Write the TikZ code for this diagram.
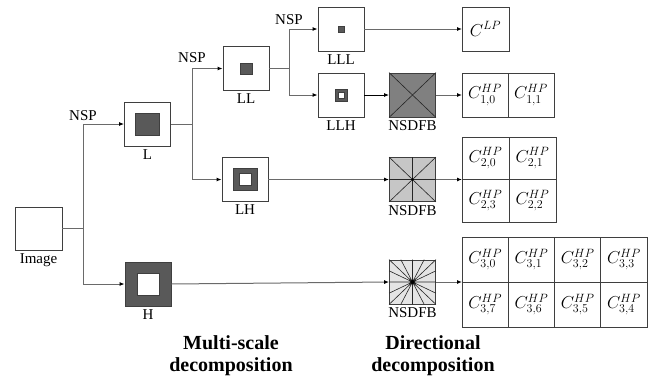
\documentclass[tikz,border=0pt]{standalone}
\usepackage{fontspec}
\setmainfont{Liberation Serif}
\usetikzlibrary{arrows.meta, positioning, calc}
\definecolor{boxline}{HTML}{3F3F3F}
\definecolor{wireline}{HTML}{6A6A6A}
\definecolor{darkfill}{HTML}{595959}
\definecolor{dfbdark}{HTML}{808080}
\definecolor{dfbmid}{HTML}{C6C6C6}
\definecolor{dfblight}{HTML}{E4E4E4}

\begin{document}
\begin{tikzpicture}[
    x=1pt, y=-1pt,
    >={Latex[length=5pt, width=4pt, color=black]},
    % ── shared styles ──
    band box/.style={draw=boxline, line width=0.8pt, fill=white, inner sep=0pt,
        minimum width=46pt, minimum height=44pt},
    core sq/.style={draw=boxline, line width=0.6pt, fill=darkfill, inner sep=0pt,
        minimum width=#1, minimum height=#1},
    hole sq/.style={draw=boxline, line width=0.6pt, fill=white, inner sep=0pt,
        minimum width=#1, minimum height=#1},
    dfb box/.style={band box, fill=#1},
    coef cell/.style={draw=boxline, line width=0.8pt, inner sep=0pt, outer sep=0pt,
        minimum width=#1, minimum height=44pt, font=\fontsize{18}{20}\selectfont},
    sub label/.style={font=\fontsize{15}{17}\selectfont, inner sep=1pt},
    stage title/.style={font=\fontsize{20}{22}\selectfont\bfseries, align=center},
    wire/.style={draw=wireline, line width=1pt},
    flow/.style={wire, ->},
    dfb ray/.style={draw=black!85, line width=0.6pt},
]
\useasboundingbox (0,0) rectangle (656,380);

% ══════════════════════════════════════════════════════════════════════
%  MULTI-SCALE BANDS (NSP tree)
% ══════════════════════════════════════════════════════════════════════
\node[band box, minimum width=47pt, minimum height=43pt] (img) at (38.5,228.5) {};
\node[sub label, below=2pt of img] (imglab) {Image};

% ── level 1 ──
\node[band box] (L) at (147.5,124) {};
\node[core sq=24pt, minimum height=22pt] (Lcore) at (L) {};
\node[sub label, below=2pt of L] (Llab) {L};

\node[band box, fill=darkfill] (H) at (148,284) {};
\node[hole sq=22pt] (Hhole) at (H) {};
\node[sub label, below=2pt of H] (Hlab) {H};

% ── level 2 ──
\node[band box] (LL) at (246,68.5) {};
\node[core sq=12pt, minimum height=11pt] (LLcore) at (LL) {};
\node[sub label, below=2pt of LL] (LLlab) {LL};

\node[band box] (LH) at (245,179.5) {};
\node[core sq=24pt, minimum height=22pt] (LHcore) at (LH) {};
\node[hole sq=12pt] (LHhole) at (LH) {};
\node[sub label, below=2pt of LH] (LHlab) {LH};

% ── level 3 ──
\node[band box] (LLL) at (341,29) {};
\node[core sq=6pt] (LLLcore) at (LLL) {};
\node[sub label, below=2pt of LLL] (LLLlab) {LLL};

\node[band box] (LLH) at (341,95) {};
\node[core sq=12pt] (LLHcore) at (LLH) {};
\node[hole sq=6pt] (LLHhole) at (LLH) {};
\node[sub label, below=2pt of LLH] (LLHlab) {LLH};

% ══════════════════════════════════════════════════════════════════════
%  DIRECTIONAL FILTER BANKS
% ══════════════════════════════════════════════════════════════════════
\node[dfb box=dfbdark] (dfb1) at (412.5,95) {};
\draw[dfb ray] (dfb1.north west) -- (dfb1.south east)
               (dfb1.north east) -- (dfb1.south west);
\node[sub label, below=2pt of dfb1] (dfb1lab) {NSDFB};

\node[dfb box=dfbmid] (dfb2) at (412.5,179.5) {};
\draw[dfb ray] (dfb2.north west) -- (dfb2.south east)
               (dfb2.north east) -- (dfb2.south west)
               (dfb2.north) -- (dfb2.south)
               (dfb2.west) -- (dfb2.east);
\fill (dfb2.center) circle (1.3pt);
\node[sub label, below=2pt of dfb2] (dfb2lab) {NSDFB};

\node[dfb box=dfblight] (dfb3) at (412.5,282) {};
\draw[dfb ray] (dfb3.north west) -- (dfb3.south east)
               (dfb3.north east) -- (dfb3.south west)
               (dfb3.north) -- (dfb3.south)
               (dfb3.west) -- (dfb3.east)
               ($(dfb3.north west)!.25!(dfb3.north east)$) -- ($(dfb3.south west)!.75!(dfb3.south east)$)
               ($(dfb3.north west)!.75!(dfb3.north east)$) -- ($(dfb3.south west)!.25!(dfb3.south east)$)
               ($(dfb3.north west)!.25!(dfb3.south west)$) -- ($(dfb3.north east)!.75!(dfb3.south east)$)
               ($(dfb3.north west)!.75!(dfb3.south west)$) -- ($(dfb3.north east)!.25!(dfb3.south east)$);
\fill (dfb3.center) circle (2pt);
\node[sub label, below=2pt of dfb3] (dfb3lab) {NSDFB};

% ══════════════════════════════════════════════════════════════════════
%  COEFFICIENTS
% ══════════════════════════════════════════════════════════════════════
\node[coef cell=47pt] (cLP) at (485.5,29) {$C^{LP}$};

\node[coef cell=46pt] (c10) at (485,95) {$C^{HP}_{1,0}$};
\node[coef cell=46pt, right=0pt of c10] (c11) {$C^{HP}_{1,1}$};

\node[coef cell=47pt, minimum height=42.5pt] (c20) at (485.5,158.25) {$C^{HP}_{2,0}$};
\node[coef cell=47pt, minimum height=42.5pt, right=0pt of c20] (c21) {$C^{HP}_{2,1}$};
\node[coef cell=47pt, minimum height=42.5pt, below=0pt of c20] (c23) {$C^{HP}_{2,3}$};
\node[coef cell=47pt, minimum height=42.5pt, right=0pt of c23] (c22) {$C^{HP}_{2,2}$};

\node[coef cell=46.25pt, minimum height=45pt] (c30) at (485.125,259.5) {$C^{HP}_{3,0}$};
\node[coef cell=46.25pt, minimum height=45pt, right=0pt of c30] (c31) {$C^{HP}_{3,1}$};
\node[coef cell=46.25pt, minimum height=45pt, right=0pt of c31] (c32) {$C^{HP}_{3,2}$};
\node[coef cell=46.25pt, minimum height=45pt, right=0pt of c32] (c33) {$C^{HP}_{3,3}$};
\node[coef cell=46.25pt, minimum height=45pt, below=0pt of c30] (c37) {$C^{HP}_{3,7}$};
\node[coef cell=46.25pt, minimum height=45pt, right=0pt of c37] (c36) {$C^{HP}_{3,6}$};
\node[coef cell=46.25pt, minimum height=45pt, right=0pt of c36] (c35) {$C^{HP}_{3,5}$};
\node[coef cell=46.25pt, minimum height=45pt, right=0pt of c35] (c34) {$C^{HP}_{3,4}$};

% ══════════════════════════════════════════════════════════════════════
%  FLOW
% ══════════════════════════════════════════════════════════════════════
\coordinate (j0) at (83,228.5);
\coordinate (j1) at (192,124);
\coordinate (j2) at (289,68.5);

\draw[wire] (img.east) -- (j0);
\draw[flow] (j0) |- node[pos=0.5, above, sub label, yshift=2pt] (nsp0) {NSP} (L.west);
\draw[flow] (j0) |- (H.west);

\draw[wire] (L.east) -- (j1);
\draw[flow] (j1) |- node[pos=0.5, above, sub label, yshift=4pt] (nsp1) {NSP} (LL.west);
\draw[flow] (j1) |- (LH.west);

\draw[wire] (LL.east) -- (j2);
\draw[flow] (j2) |- node[pos=0.5, above, sub label, yshift=3pt] (nsp2) {NSP} (LLL.west);
\draw[flow] (j2) |- (LLH.west);

\draw[flow] (LLL.east) -- (cLP.west);
\draw[flow, draw=black] (LLH.east) -- (dfb1.west);
\draw[flow] (dfb1.east) -- (c10.west);
\draw[flow] (LH.east) -- (dfb2.west);
\draw[flow] (dfb2.east) -- (c20.south west);
\draw[flow] (H.east) -- (dfb3.west);
\draw[flow] (dfb3.east) -- (c30.south west);

% ── stage titles ──
\node[stage title] (msd) at (231,356) {Multi-scale\\decomposition};
\node[stage title] (dd) at (433,356) {Directional\\decomposition};

\end{tikzpicture}
\end{document}
